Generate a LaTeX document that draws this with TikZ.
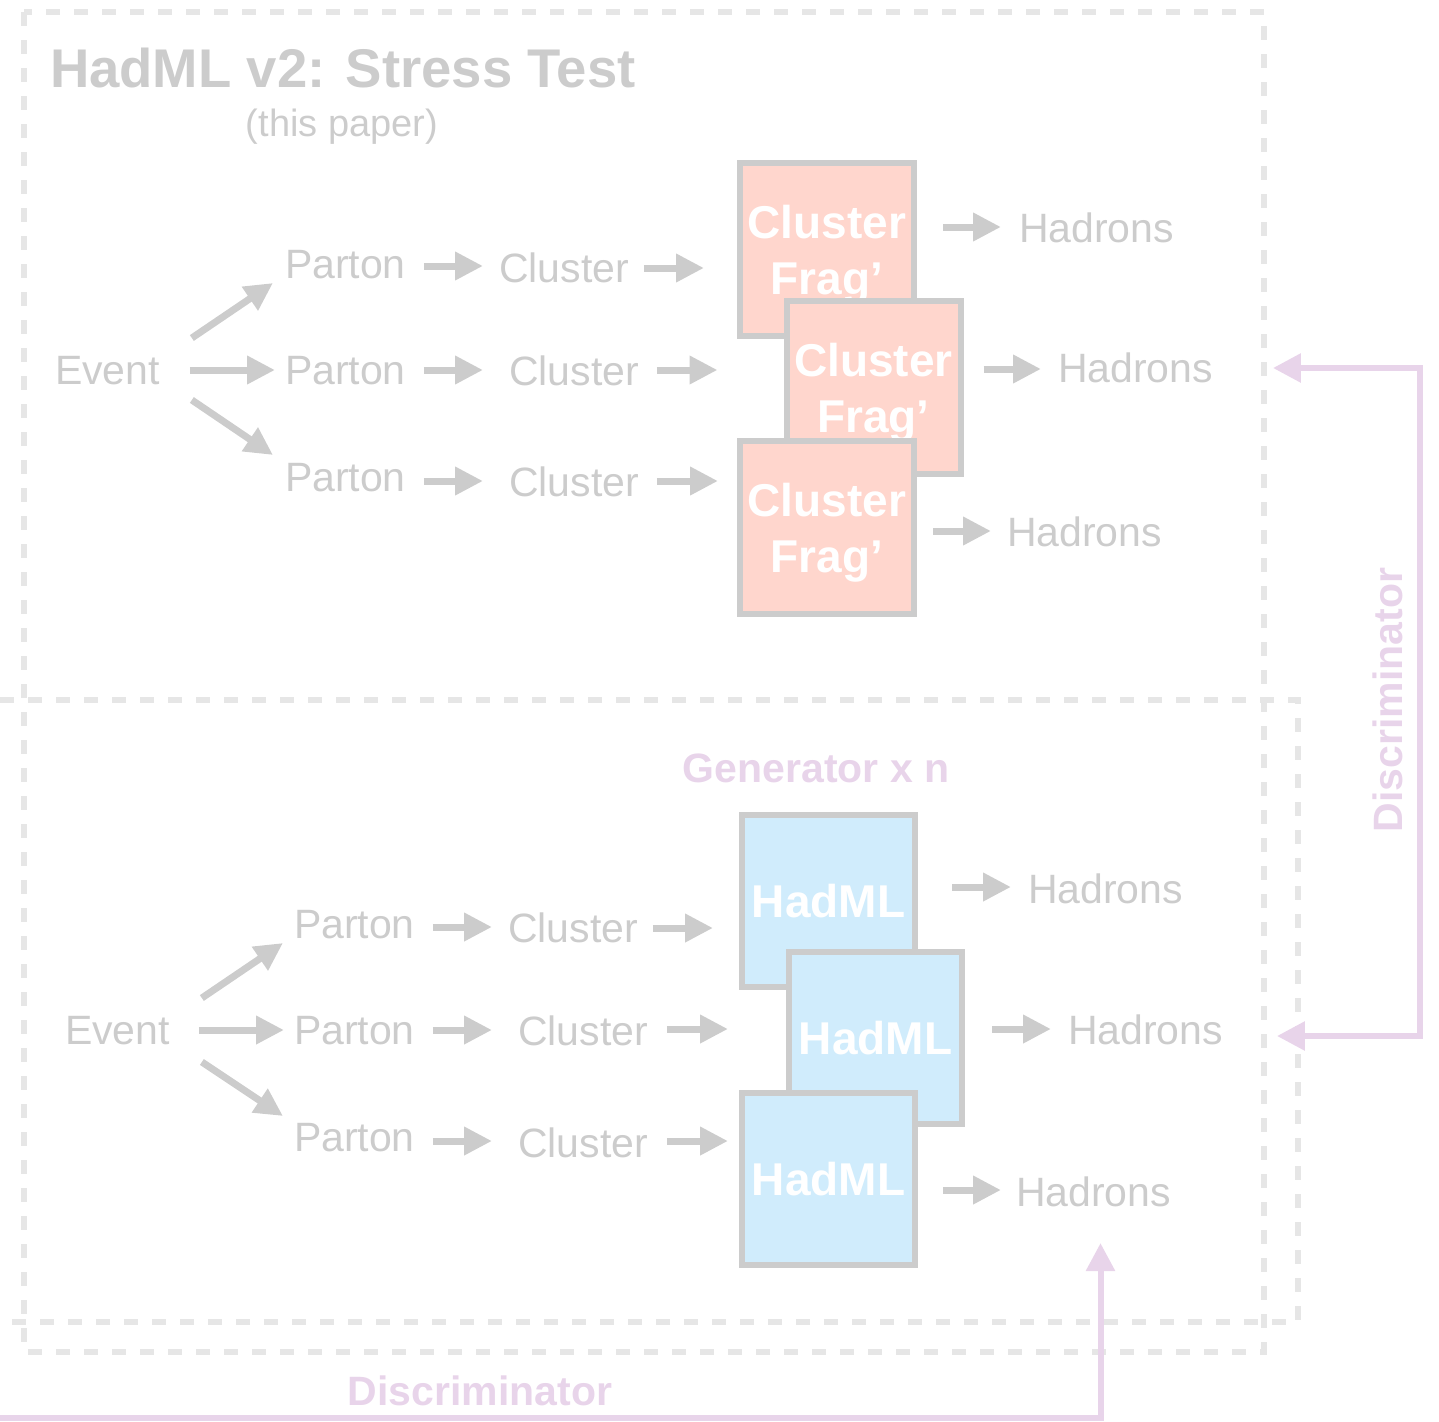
\documentclass[tikz,border=0pt]{standalone}
\usepackage{fontspec}
\setmainfont{Liberation Sans}
\usetikzlibrary{arrows.meta,calc}
\definecolor{tgray}{HTML}{CCCCCC}
\definecolor{agray}{HTML}{CCCCCC}
\definecolor{bgray}{HTML}{CCCCCC}
\definecolor{dgray}{HTML}{E6E6E6}
\definecolor{salmonf}{HTML}{FFD6CD}
\definecolor{skyf}{HTML}{D0ECFC}
\definecolor{discpink}{HTML}{E8D4EA}
\newcommand\txsz{\fontsize{41}{48}\selectfont}
\newcommand\bxsz{\fontsize{46}{56}\selectfont}
\newcommand\fragtext{\rule{0pt}{44pt}Cluster\\Frag’}
\tikzset{
 txt/.style={text=tgray, inner sep=0pt, outer sep=0pt, font=\txsz, anchor=west},
 garrow/.style={draw=agray, line width=7pt, -{Triangle[length=28pt,width=27pt]}},
 fragbox/.style={draw=bgray, line width=6pt, fill=salmonf, minimum width=174pt, minimum height=173pt, text=white, font=\bxsz\bfseries, align=center, inner sep=0pt},
 hadbox/.style={draw=bgray, line width=6pt, fill=skyf, minimum width=173pt, minimum height=172pt, text=white, font=\bxsz\bfseries, align=center, inner sep=0pt},
 dashframe/.style={draw=dgray, line width=6pt, dash pattern=on 14pt off 14pt},
 pline/.style={draw=discpink, line width=6pt},
 plabel/.style={text=discpink, font=\txsz\bfseries, inner sep=0pt}
}
\begin{document}
\begin{tikzpicture}[x=1pt,y=-1pt]
\useasboundingbox (0,0) rectangle (1439,1421);
% dashed frames
\draw[dashframe] (24,12) rectangle (1264,1352);
\draw[dashframe] (-10,700) rectangle (1298,1322);

% ---------- top section ----------
\node[txt, font=\fontsize{54.5}{60}\selectfont\bfseries] (title) at (50,68) {HadML v2: Stress Test};
\node[text=tgray, inner sep=0pt, font=\fontsize{38}{44}\selectfont] (sub) at (342,127) {(this paper)};

\node[txt] (ev1) at (55,371) {Event};
\node[txt] (p1) at (285,265) {Parton};
\node[txt] (p2) at (285,371) {Parton};
\node[txt] (p3) at (285,478) {Parton};
\node[txt] (c1) at (499,268) {Cluster};
\node[txt] (c2) at (509,371) {Cluster};
\node[txt] (c3) at (509,482) {Cluster};

\node[fragbox] (f1) at (827,249.5) {\fragtext};
\node[fragbox] (f2) at (873.5,387) {\fragtext};
\node[fragbox] (f3) at (827,527) {\fragtext};

\node[txt] (h1) at (1019,228) {Hadrons};
\node[txt] (h2) at (1058,368) {Hadrons};
\node[txt] (h3) at (1007,532) {Hadrons};

\draw[garrow] ($(ev1.east)+(32,-33)$) -- ($(p1.west)+(-12,18)$);
\draw[garrow] ($(ev1.east)+(30,-1)$) -- ($(p2.west)+(-10,-1)$);
\draw[garrow] ($(ev1.east)+(32,29)$) -- ($(p3.west)+(-12,-23)$);
\draw[garrow] ($(p1.east)+(18,1)$) -- ($(c1.west)+(-16,-2)$);
\draw[garrow] ($(p2.east)+(18,-1)$) -- ($(c2.west)+(-26,-1)$);
\draw[garrow] ($(p3.east)+(18,3)$) -- ($(c3.west)+(-26,-1)$);
\draw[garrow] ($(c1.east)+(15,0)$) -- ($(f1.west)+(-33,18.5)$);
\draw[garrow] ($(c2.east)+(18,-1)$) -- ($(f2.west)+(-66,-17)$);
\draw[garrow] ($(c3.east)+(18,-1)$) -- ($(f3.west)+(-19,-46)$);
\draw[garrow] ($(f1.east)+(26,-22.5)$) -- ($(h1.west)+(-18,-1)$);
\draw[garrow] ($(f2.east)+(20,-18)$) -- ($(h2.west)+(-17,1)$);
\draw[garrow] ($(f3.east)+(16,4)$) -- ($(h3.west)+(-16,-1)$);

% ---------- bottom section ----------
\node[plabel] (gen) at (816,768) {Generator x n};

\node[txt] (ev2) at (65,1031) {Event};
\node[txt] (q1) at (294,925) {Parton};
\node[txt] (q2) at (294,1031) {Parton};
\node[txt] (q3) at (294,1138) {Parton};
\node[txt] (d1) at (508,928) {Cluster};
\node[txt] (d2) at (518,1031) {Cluster};
\node[txt] (d3) at (518,1143) {Cluster};

\node[hadbox] (g1) at (828.5,901) {HadML};
\node[hadbox] (g2) at (875.5,1038) {HadML};
\node[hadbox] (g3) at (828.5,1179) {HadML};

\node[txt] (k1) at (1028,889) {Hadrons};
\node[txt] (k2) at (1068,1030) {Hadrons};
\node[txt] (k3) at (1016,1192) {Hadrons};

\draw[garrow] ($(ev2.east)+(32,-33)$) -- ($(q1.west)+(-11,18)$);
\draw[garrow] ($(ev2.east)+(29,-1)$) -- ($(q2.west)+(-10,-1)$);
\draw[garrow] ($(ev2.east)+(32,31)$) -- ($(q3.west)+(-11,-22)$);
\draw[garrow] ($(q1.east)+(18,2)$) -- ($(d1.west)+(-16,-1)$);
\draw[garrow] ($(q2.east)+(18,-1)$) -- ($(d2.west)+(-26,-1)$);
\draw[garrow] ($(q3.east)+(18,3)$) -- ($(d3.west)+(-26,-2)$);
\draw[garrow] ($(d1.east)+(15,0)$) -- ($(g1.west)+(-26,27)$);
\draw[garrow] ($(d2.east)+(19,-2)$) -- ($(g2.west)+(-58,-9)$);
\draw[garrow] ($(d3.east)+(19,-2)$) -- ($(g3.west)+(-11,-38)$);
\draw[garrow] ($(g1.east)+(34,-14)$) -- ($(k1.west)+(-17,-2)$);
\draw[garrow] ($(g2.east)+(27,-9)$) -- ($(k2.west)+(-17,-1)$);
\draw[garrow] ($(g3.east)+(25,11)$) -- ($(k3.west)+(-15,-2)$);

% ---------- discriminators ----------
\node[plabel, rotate=90] (discR) at (1388,700) {Discriminator};
\draw[pline, {Triangle[length=28pt,width=28pt]}-{Triangle[length=28pt,width=28pt]}]
  ($(k2.east)+(54,6)$) -- (1420,1036) -- (1420,368) -- ($(h2.east)+(60,0)$);

\node[plabel] (discB) at (480,1391) {Discriminator};
\coordinate (dstart) at (-5,1418);
\draw[pline, -{Triangle[length=28pt,width=28pt]}] (dstart) -| ($(k3.south)+(7,36)$);
\end{tikzpicture}
\end{document}
